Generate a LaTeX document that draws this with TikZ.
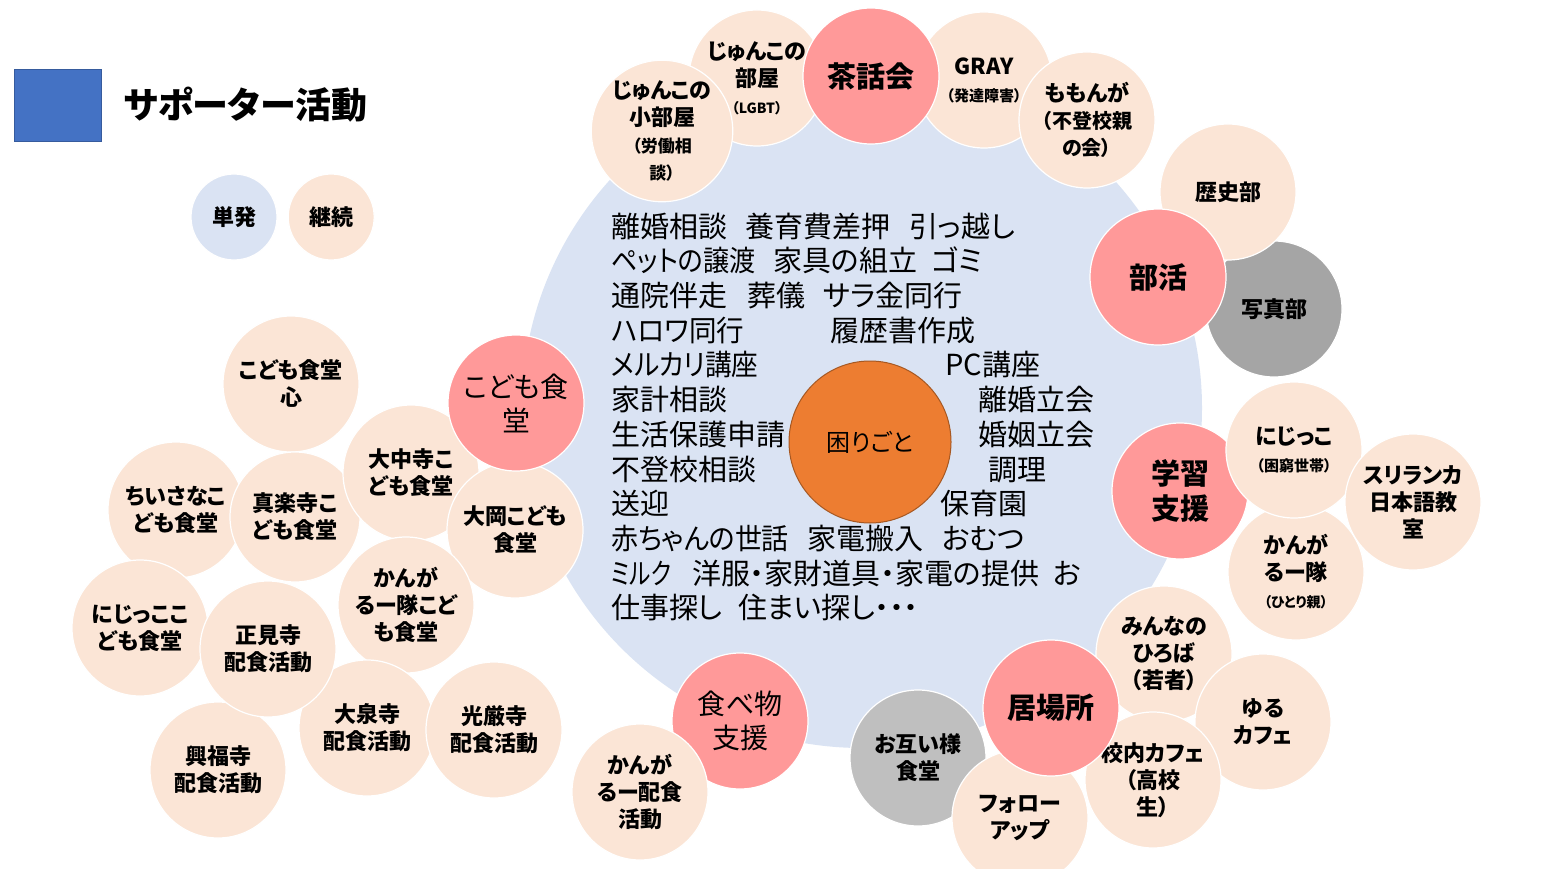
\documentclass[tikz,border=0pt]{standalone}
\usepackage{fontspec}
\setmainfont{Noto Sans CJK JP}[RawFeature=+palt]
\usetikzlibrary{positioning}

\definecolor{hubpink}{HTML}{FF9999}
\definecolor{peach}{HTML}{FBE5D6}
\definecolor{paleblue}{HTML}{DAE3F3}
\definecolor{issueorange}{HTML}{ED7D31}
\definecolor{legendblue}{HTML}{4472C4}
\definecolor{midgray}{HTML}{A5A5A5}
\definecolor{lightgray}{HTML}{BFBFBF}

\newcommand{\subnote}[2]{{\fontsize{#1}{#1}\selectfont #2}}
\newcommand{\narrow}[2]{\scalebox{#1}[1]{#2}}

\begin{document}
\begin{tikzpicture}[
				x=1pt, y=-1pt,
				bubble/.style={circle, draw=white, line width=1.2pt, minimum size=136pt, inner sep=0pt, align=center, font=\fontsize{22}{27}\selectfont\bfseries},
				hub/.style={bubble, fill=hubpink, font=\fontsize{29}{35}\selectfont\bfseries},
				hubthin/.style={bubble, fill=hubpink, font=\fontsize{28}{34}\selectfont},
				keep/.style={bubble, fill=peach},
				grayone/.style={bubble, fill=midgray},
				graytwo/.style={bubble, fill=lightgray},
				issue/.style={anchor=west, inner sep=0pt, text height=25.5pt, text depth=3.5pt, font=\fontsize{29}{35}\selectfont},
				node distance=10pt
				]
				\useasboundingbox (0,0) rectangle (1544,869);
				
				% troubles in the middle
				\node[circle, fill=paleblue, minimum size=680pt, inner sep=0pt] (area) at (862,408) {};
				\node[circle, fill=issueorange, draw=issueorange!70!black, line width=1pt, minimum size=162pt, inner sep=0pt, font=\fontsize{24}{28}\selectfont] (komari) at (870,442) {困りごと};
				\foreach \px/\py/\txt [count=\i] in {
					611/226/離婚相談, 745/226/養育費差押, 909/226/引っ越し,
					611/260/\narrow{0.9}{ペットの譲渡}, 773/260/家具の組立, 931/260/ゴミ,
					611/295/通院伴走, 747/295/葬儀, 823/295/サラ金同行,
					611/330/\narrow{0.95}{ハロワ同行}, 830/330/履歴書作成,
					611/364/\narrow{0.92}{メルカリ講座}, 945/364/PC講座,
					611/399/家計相談, 978/399/離婚立会,
					611/434/生活保護申請, 978/434/婚姻立会,
					611/469/不登校相談, 988/469/調理,
					611/503/送迎, 940/503/保育園,
					611/538/\narrow{0.93}{赤ちゃんの世話}, 807/538/家電搬入, 942/538/おむつ,
					611/573/\narrow{0.78}{ミルク}, 692/573/洋服・家財道具・家電の提供, 1053/573/お,
					611/607/仕事探し, 738/607/住まい探し・・・}
					\node[issue] (issue\i) at (\px,\py) {\txt};
				
				% legend
				\node[fill=legendblue, draw=legendblue!80!black, minimum width=87pt, minimum height=72pt, inner sep=0pt] (legendbox) at (57.5,105) {};
				\node[right=22pt of legendbox, inner sep=0pt, font=\fontsize{36}{42}\selectfont\bfseries] (title) {サポーター活動};
				\node[bubble, fill=paleblue, minimum size=86pt] (single) at (234,217) {単発};
				\node[bubble, fill=peach, minimum size=86pt, right=10pt of single] (ongoing) {継続};
				
				% tea party
				\node[keep] (junbeya) at (757,78) {じゅんこの\\部屋\\\subnote{14}{（LGBT）}};
				\node[keep] (junkobeya) at (662,131) {じゅんこの\\小部屋\\\subnote{17}{（労働相}\\\subnote{17}{談）}};
				\node[keep] (gray) at (984,80) {GRAY\\\subnote{15}{（発達障害）}};
				\node[keep] (momonga) at (1087,120) {ももんが\\\subnote{20}{（不登校親}\\\subnote{20}{の会）}};
				\node[hub] (sawakai) at (871,76) {茶話会};
				
				% clubs
				\node[grayone] (shashin) at (1274,309) {写真部};
				\node[keep] (rekishi) at (1228,192) {歴史部};
				\node[hub] (bukatsu) at (1158,277) {部活};
				
				% study support
				\node[hub] (gakushu) at (1180,491) {学習\\支援};
				\node[keep] (kangaru) at (1296,572) {かんが\\るー隊\\\subnote{14}{（ひとり親）}};
				\node[keep] (nijikko) at (1294,450) {にじっこ\\\subnote{15}{（困窮世帯）}};
				\node[keep] (srilanka) at (1413,502) {スリランカ\\日本語教\\室};
				
				% places to be
				\node[graytwo] (otagai) at (918,758) {お互い様\\食堂};
				\node[keep] (follow) at (1020,818) {フォロー\\アップ};
				\node[keep] (minna) at (1164,654) {みんなの\\ひろば\\（若者）};
				\node[keep] (yuru) at (1263,722) {ゆる\\カフェ};
				\node[keep] (konai) at (1153,780) {校内カフェ\\（高校\\生）};
				\node[hub] (ibasho) at (1051,708) {居場所};
				
				% food support
				\node[hubthin] (tabemono) at (740,721) {食べ物\\支援};
				\node[keep] (kangaruhai) at (640,792) {かんが\\るー配食\\活動};
				
				% children's cafeterias
				\node[keep] (kokoro) at (291,384) {こども食堂\\心};
				\node[keep] (chiisana) at (176,510) {ちいさなこ\\ども食堂};
				\node[keep, minimum size=130pt] (shinraku) at (295,517) {真楽寺こ\\ども食堂};
				\node[keep] (daichu) at (411,473) {大中寺こ\\ども食堂};
				\node[keep] (ooka) at (515,530) {大岡こども\\食堂};
				\node[keep] (kangarukodomo) at (406,605) {かんが\\るー隊こど\\も食堂};
				\node[keep] (nijikodomo) at (140,628) {にじっここ\\ども食堂};
				\node[keep] (kofuku) at (218,770) {興福寺\\配食活動};
				\node[keep] (taisen) at (367,728) {大泉寺\\配食活動};
				\node[keep] (kogon) at (494,730) {光厳寺\\配食活動};
				\node[keep] (shoken) at (268,649) {正見寺\\配食活動};
				\node[hubthin] (kodomo) at (516,403) {こども食\\堂};
			\end{tikzpicture}
\end{document}
